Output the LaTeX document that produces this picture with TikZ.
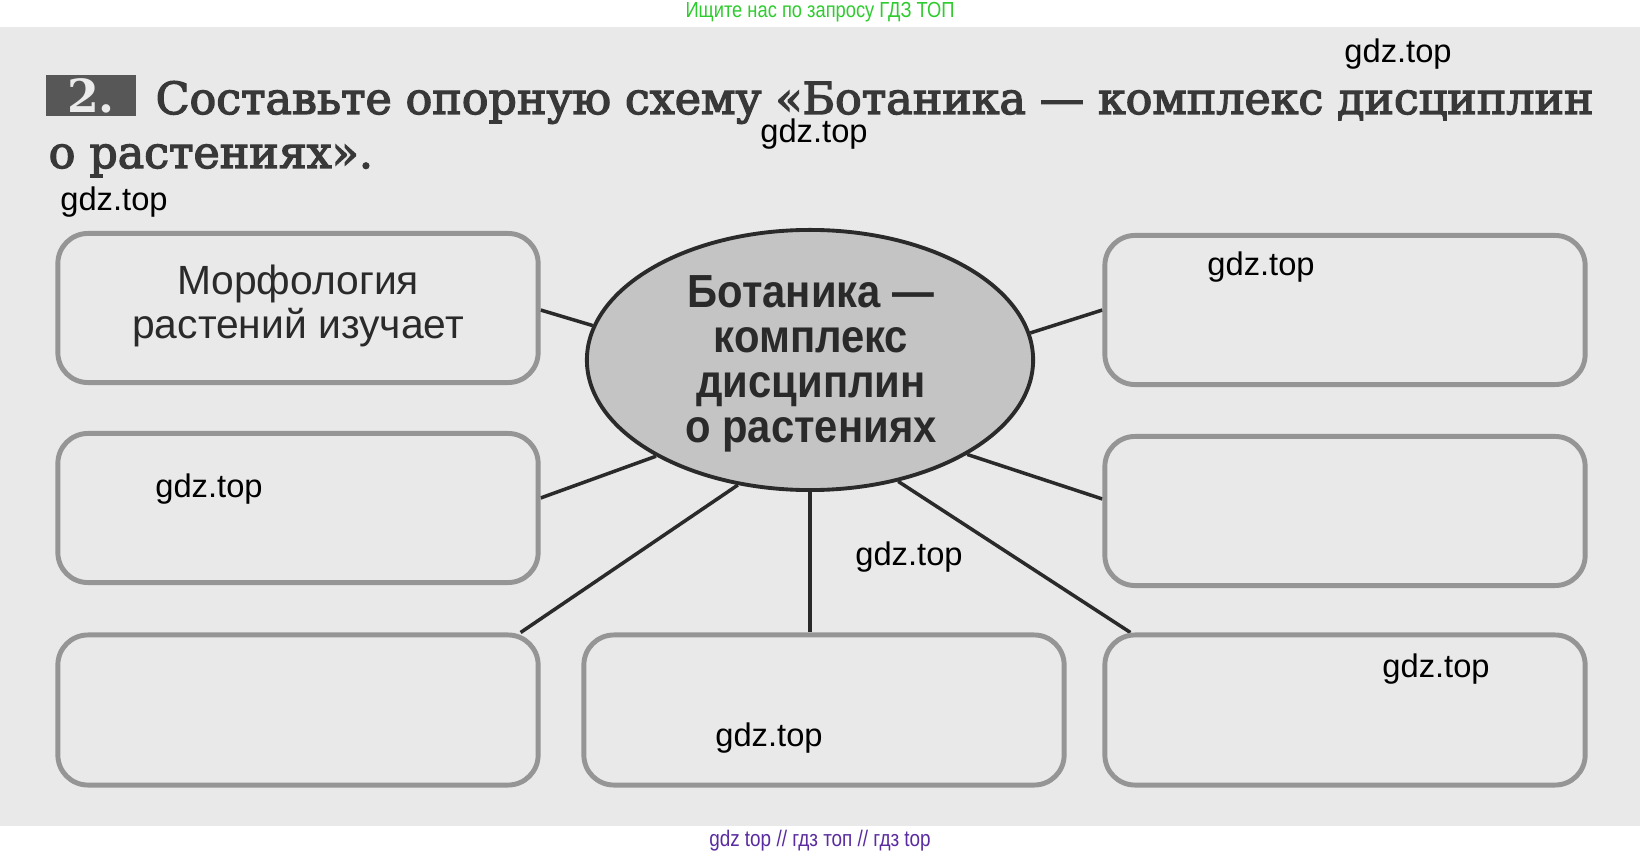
\documentclass[tikz,border=0pt]{standalone}
\usepackage{fontspec}
\setmainfont{DejaVu Serif}
\newfontfamily\headfont{DejaVu Serif}[FakeBold=3]
\newfontfamily\plainsans{Liberation Sans}
\newfontfamily\condsans{Liberation Sans}[FakeStretch=0.9]
\newfontfamily\narrowsans{Liberation Sans}[FakeStretch=0.84]
\usetikzlibrary{shapes.geometric}
\pgfdeclarelayer{back}
\pgfdeclarelayer{lines}
\pgfsetlayers{back,lines,main}
\definecolor{scanbg}{HTML}{E9E9E9}
\definecolor{ink}{HTML}{2A2A2A}
\definecolor{headink}{HTML}{383838}
\definecolor{boxline}{HTML}{959595}
\definecolor{ellfill}{HTML}{C4C4C4}
\definecolor{numgray}{HTML}{575757}
\definecolor{gdzgreen}{HTML}{2ECC2E}
\definecolor{gdzpurple}{HTML}{5A2CA0}
\tikzset{
  answerbox/.style={draw=boxline, line width=1.4pt, rounded corners=0.3cm, fill=scanbg,
    minimum width=4.8cm, minimum height=1.49cm, inner sep=0pt},
  conn/.style={draw=ink, line width=1pt},
  wmark/.style={font=\plainsans\fontsize{9.3}{11}\selectfont, text=black, inner sep=0pt},
  headtext/.style={anchor=base west, inner sep=0pt, font=\headfont\fontsize{12.6}{14}\selectfont, text=headink},
}
\begin{document}
\begin{tikzpicture}[x=0.01cm, y=-0.01cm]
\useasboundingbox (0,0) rectangle (1640,855);
\begin{pgfonlayer}{back}
\fill[white] (0,0) rectangle (1640,855);
\fill[scanbg] (0,27) rectangle (1640,826);
\end{pgfonlayer}

% header / footer texts
\node[font=\narrowsans\fontsize{6.2}{7}\selectfont, text=gdzgreen, inner sep=0pt] (topline) at (820,12) {Ищите нас по запросу ГДЗ ТОП};
\node[font=\narrowsans\fontsize{6.4}{7}\selectfont, text=gdzpurple, inner sep=0pt] (botline) at (820,841) {gdz top // гдз топ // гдз top};

% task heading
\node[fill=numgray, minimum width=0.9cm, minimum height=0.41cm, inner sep=0pt,
      font=\bfseries\fontsize{13}{14}\selectfont, text=white!92!black] (num) at (91,95.5) {2.};
\node[headtext] (head1) at (155,114)
  {\makebox[14.37cm][s]{Составьте опорную схему «Ботаника — комплекс дисциплин}};
\node[headtext] (head2) at (48,168) {о растениях».};

% central ellipse
\node[ellipse, draw=ink, line width=1.1pt, fill=ellfill, minimum width=4.46cm, minimum height=2.6cm, inner sep=0pt] (ell) at (810,360) {};
\node[align=center, inner sep=0pt, text=ink, font=\condsans\bfseries\fontsize{13.2}{12.8}\selectfont] (ellt) at (811,364)
  {Ботаника —\\комплекс\\дисциплин\\о растениях};

% answer boxes
\node[answerbox] (tl) at (298,308) {};
\node[align=center, inner sep=0pt, text=ink, font=\plainsans\fontsize{11.6}{12.6}\selectfont] (tlt) at (298,306) {Морфология\\растений изучает};
\node[answerbox] (tr) at (1345,310) {};
\node[answerbox] (ml) at (298,508) {};
\node[answerbox] (mr) at (1345,511) {};
\node[answerbox, minimum height=1.5cm] (bl) at (298,710) {};
\node[answerbox, minimum height=1.5cm] (bm) at (824,710) {};
\node[answerbox, minimum height=1.5cm] (br) at (1345,710) {};

% connectors
\begin{pgfonlayer}{lines}
\draw[conn] (ell.171.6) -- ([yshift=-0.02cm]tl.east);
\draw[conn] (ell.7) -- (tr.west);
\draw[conn] (ell.212.6) -- ([yshift=0.1cm]ml.east);
\draw[conn] (ell.329) -- ([yshift=0.12cm]mr.west);
\draw[conn] (ell.240.8) -- ([xshift=-0.2cm]bl.north east);
\draw[conn] (ell.south) -- (ell.south |- bm.north);
\draw[conn] (ell.306.9) -- ([xshift=0.28cm]br.north west);
\end{pgfonlayer}

% watermarks
\node[wmark] (w1) at (1398,54) {gdz.top};
\node[wmark] (w2) at (814,134) {gdz.top};
\node[wmark] (w3) at (114,202) {gdz.top};
\node[wmark] (w4) at (1261,267) {gdz.top};
\node[wmark] (w5) at (209,489) {gdz.top};
\node[wmark] (w6) at (909,557) {gdz.top};
\node[wmark] (w7) at (1436,669) {gdz.top};
\node[wmark] (w8) at (769,738) {gdz.top};
\end{tikzpicture}
\end{document}
